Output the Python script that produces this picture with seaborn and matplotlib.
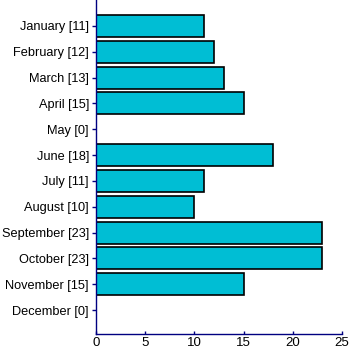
import matplotlib
matplotlib.use("Agg")
import matplotlib.pyplot as plt
import seaborn as sns
import pandas as pd

# monthly counts
months = ["January", "February", "March", "April", "May", "June", "July",
          "August", "September", "October", "November", "December"]
counts = [11, 12, 13, 15, 0, 18, 11, 10, 23, 23, 15, 0]
xticks = [0, 5, 10, 15, 20, 25]

labels = [f"{m} [{c}]" for m, c in zip(months, counts)]
df = pd.DataFrame({"label": labels, "count": counts})

sns.set_style("white")
plt.rcParams["font.family"] = ["Liberation Sans", "DejaVu Sans"]

fig = plt.figure(figsize=(3.5, 3.64), dpi=100)
ax = fig.add_axes([0.274, 0.082, 0.703, 0.918])

sns.barplot(data=df, x="count", y="label", orient="h", color="#00BED4",
            saturation=1, edgecolor="black", linewidth=1.2, width=0.85, ax=ax)

navy = "#000080"
ax.set_xlim(0, 25)
ax.set_ylim(11.93, -1.0)
ax.set_xticks(xticks)
ax.set_xlabel("")
ax.set_ylabel("")
for s in ["top", "right"]:
    ax.spines[s].set_visible(False)
for s in ["left", "bottom"]:
    ax.spines[s].set_color(navy)
    ax.spines[s].set_linewidth(1.0)
ax.tick_params(axis="y", colors=navy, labelcolor="black", labelsize=9.2,
               length=3, width=1, direction="out", left=True, pad=2)
ax.tick_params(axis="x", colors=navy, labelcolor="black", labelsize=9.5,
               length=2, width=1, direction="in", bottom=True, pad=2)

fig.savefig("out.png", dpi=100)
